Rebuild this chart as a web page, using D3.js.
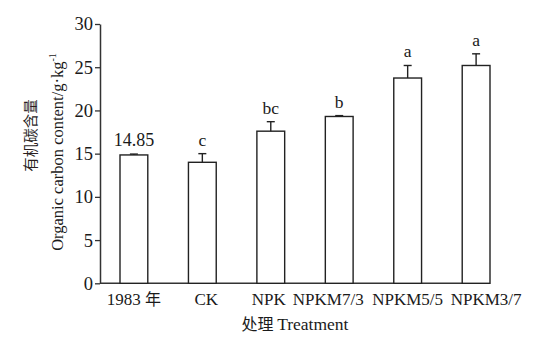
<!DOCTYPE html>
<html>
<head>
<meta charset="utf-8">
<script src="https://cdn.jsdelivr.net/npm/d3@7"></script>
<style>
  html, body { margin: 0; padding: 0; background: #fff; }
  svg text { font-family: "Liberation Serif", "Times New Roman", serif; fill: #1a1a1a; }
  .cjk { font-family: "Noto Sans CJK SC", sans-serif; }
</style>
</head>
<body>
<svg id="chart" width="545" height="341"></svg>
<script>
// Soil organic carbon by treatment
const categories = ["1983 年", "CK", "NPK", "NPKM7/3", "NPKM5/5", "NPKM3/7"];
const means      = [14.85, 14.0, 17.6, 19.3, 23.75, 25.2];
const errors     = [0.1, 1.0, 1.1, 0.1, 1.45, 1.35];
const letters    = ["14.85", "c", "bc", "b", "a", "a"];
const yTicks     = [0, 5, 10, 15, 20, 25, 30];

const svg = d3.select("#chart");
const axisLeftX = 100, axisRightX = 490;
const yTop = 24, yBottom = 283.3;

const x = d3.scaleBand()
  .domain(categories)
  .range([120, axisRightX])
  .paddingInner(0.594)
  .paddingOuter(0);

const y = d3.scaleLinear().domain([0, 30]).range([yBottom, yTop]);

// tick-label nudges so the long names do not crowd each other
const labelNudge = { "CK": 4, "NPK": -2, "NPKM7/3": -11, "NPKM3/7": 10 };

// y axis
const yAxis = svg.append("g")
  .attr("transform", `translate(${axisLeftX},0)`)
  .call(d3.axisLeft(y).tickValues(yTicks).tickSize(5).tickSizeOuter(0).tickPadding(2));
yAxis.select(".domain").attr("stroke", "#333").attr("stroke-width", 1.5);
yAxis.selectAll(".tick line").attr("stroke", "#333").attr("stroke-width", 1.3);
yAxis.selectAll(".tick text")
  .attr("font-size", 18.5)
  .attr("fill", "#1a1a1a")
  .style("font-family", '"Liberation Serif", serif');

// x axis baseline
svg.append("line")
  .attr("x1", axisLeftX).attr("x2", axisRightX)
  .attr("y1", y(0)).attr("y2", y(0))
  .attr("stroke", "#333").attr("stroke-width", 1.5);

// x tick labels
svg.append("g").selectAll("text")
  .data(categories)
  .join("text")
  .attr("x", d => x(d) + x.bandwidth() / 2 + (labelNudge[d] || 0))
  .attr("y", y(0) + 22)
  .attr("text-anchor", "middle")
  .attr("font-size", 17)
  .each(function(d) {
    const t = d3.select(this);
    const m = d.match(/^(.*?)\s*([\u4e00-\u9fff]+)$/);
    if (m) {
      t.append("tspan").text(m[1] + " ");
      t.append("tspan").attr("class", "cjk").attr("font-size", 16).text(m[2]);
    } else {
      t.text(d);
    }
  });

const rows = categories.map((c, i) => ({ c, v: means[i], e: errors[i], l: letters[i] }));

// bars
svg.append("g").selectAll("rect")
  .data(rows)
  .join("rect")
  .attr("x", d => x(d.c))
  .attr("width", x.bandwidth())
  .attr("y", d => y(d.v))
  .attr("height", d => y(0) - y(d.v))
  .attr("fill", "#fff")
  .attr("stroke", "#222")
  .attr("stroke-width", 1.4);

// error bars (upper half)
const capW = 8;
const err = svg.append("g").attr("stroke", "#222").attr("stroke-width", 1.4);
err.selectAll("line.stem")
  .data(rows)
  .join("line")
  .attr("class", "stem")
  .attr("x1", d => x(d.c) + x.bandwidth() / 2)
  .attr("x2", d => x(d.c) + x.bandwidth() / 2)
  .attr("y1", d => y(d.v))
  .attr("y2", d => y(d.v + d.e));
err.selectAll("line.cap")
  .data(rows)
  .join("line")
  .attr("class", "cap")
  .attr("x1", d => x(d.c) + x.bandwidth() / 2 - capW / 2)
  .attr("x2", d => x(d.c) + x.bandwidth() / 2 + capW / 2)
  .attr("y1", d => y(d.v + d.e))
  .attr("y2", d => y(d.v + d.e));

// significance letters / value label
svg.append("g").selectAll("text")
  .data(rows)
  .join("text")
  .attr("x", d => x(d.c) + x.bandwidth() / 2)
  .attr("y", d => y(d.v + d.e) - 8)
  .attr("text-anchor", "middle")
  .attr("font-size", d => d.l.length > 2 ? 18 : 17.5)
  .text(d => d.l);

// y axis title (two lines)
svg.append("text")
  .attr("class", "cjk")
  .attr("transform", "translate(36,135.5) rotate(-90)")
  .attr("text-anchor", "middle")
  .attr("font-size", 14.5)
  .style("fill", "#2a1f1f")
  .text("有机碳含量");

const yt = svg.append("text")
  .attr("transform", "translate(63,152) rotate(-90)")
  .attr("text-anchor", "middle")
  .attr("font-size", 16.5);
yt.append("tspan").text("Organic carbon content/g\u00b7kg");
yt.append("tspan").attr("font-size", 10).attr("dy", -7).text("-1");

// x axis title
const xt = svg.append("text")
  .attr("x", 295)
  .attr("y", 330)
  .attr("text-anchor", "middle")
  .attr("font-size", 17.5);
xt.append("tspan").attr("class", "cjk").attr("font-size", 16).text("处理 ");
xt.append("tspan").text("Treatment");
</script>
</body>
</html>
